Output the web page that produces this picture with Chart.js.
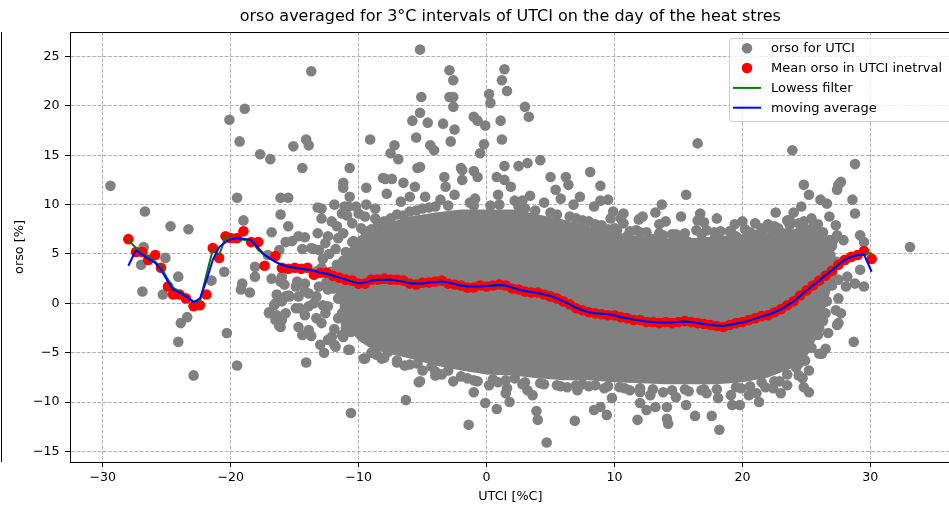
<!DOCTYPE html>
<html>
<head>
<meta charset="utf-8">
<script src="https://cdn.jsdelivr.net/npm/chart.js@4.4.1/dist/chart.umd.min.js"></script>
<style>
  html, body { margin: 0; padding: 0; background: #fff; overflow: hidden; }
  canvas { display: block; }
</style>
</head>
<body>
<canvas id="chart" width="956" height="506"></canvas>
<script>
const xTicks = [-30, -20, -10, 0, 10, 20, 30];
const yTicks = [-15, -10, -5, 0, 5, 10, 15, 20, 25];

// single observations around the dense cloud [UTCI, orso]
const orsoPoints = [
  [-29.4,11.9],[-26.7,9.3],[-26.8,5.7],[-24.7,7.8],[-23.3,7.5],[-27.0,3.9],[-26.9,1.2],[-25.1,4.6],[-25.3,0.9],[-24.1,2.7],
  [-23.9,-2.0],[-23.4,-1.4],[-24.1,-3.9],[-22.9,-7.3],[-21.5,2.3],[-20.5,3.2],[-20.3,-3.0],[-19.5,-6.3],[-19.1,2.0],[-19.2,1.4],
  [-18.5,1.1],[-18.1,2.7],[-20.1,18.6],[-18.9,19.7],[-19.3,16.4],[-19.5,10.7],[-19.0,8.4],[-17.7,15.1],[-16.9,14.6],[-18.1,3.7],[-17.1,4.9],
  [-16.1,10.7],[-15.5,10.7],[-16.1,9.0],[-15.5,7.8],[-16.8,7.2],[-15.7,6.2],[-15.2,6.3],[-14.7,6.8],[-14.2,6.7],[-16.2,5.4],
  [-14.4,5.5],[-13.2,9.7],[-13.2,7.1],[-13.5,5.5],[-15.1,15.9],[-14.1,16.6],[-13.9,16.0],[-14.4,13.7],[-13.7,23.5],
  [-16.8,2.5],[-16.1,2.2],[-16.0,2.7],[-16.4,0.9],[-15.4,0.7],[-16.5,0.0],[-17.0,-0.9],[-16.4,-1.2],[-16.0,-1.7],[-16.2,-2.3],
  [-14.7,-2.4],[-14.4,-3.2],[-13.7,-3.3],[-13.9,-2.7],[-14.1,-6.0],[-14.8,2.2],[-14.9,-0.5],[-14.6,-0.5],[-14.2,-1.2],[-13.9,1.0],
  [-14.2,2.0],[-13.5,0.0],[-14.9,1.7],[-14.2,1.2],[-13.3,0.7],[-13.9,-0.3],[-15.5,0.8],[-14.7,0.7],[-16.6,-0.2],[-13.7,5.6],
  [-13.1,5.4],[-16.0,0.2],[-15.7,-1.0],[-17.0,-1.0],[-16.5,-1.7],[-16.1,-2.4],[-15.8,1.9],[-15.7,0.7],
  [-12.9,9.6],[-12.9,8.6],[-12.1,8.3],[-11.3,9.1],[-10.8,9.8],[-10.0,9.1],[-9.4,10.0],[-11.9,10.0],[-11.1,9.8],[-10.9,8.9],
  [-10.5,8.1],[-10.2,9.8],[-11.7,7.8],[-12.4,6.8],[-12.6,6.1],[-11.2,7.1],[-12.4,-3.7],[-11.9,-4.2],[-11.2,-3.4],[-12.6,-1.0],
  [-12.4,-0.3],[-13.1,1.7],[-12.4,1.4],[-10.7,-4.7],[-9.5,-5.6],[-12.1,-3.4],[-11.3,-3.2],[-10.8,-4.7],[-11.8,-4.4],[-10.6,-11.1],
  [-11.2,12.2],[-11.2,11.7],[-10.7,13.7],[-10.7,10.8],[-9.4,11.7],[-9.1,16.6],
  [-12.8,4.5],[-12.3,5.0],[-11.8,5.5],[-12.9,3.6],[-12.0,1.5],[-11.5,0.5],[-12.8,-0.2],[-11.6,-1.5],[-11.0,-2.0],[-12.9,-2.0],
  [-13.3,-1.5],[-11.2,4.3],[-11.6,6.6],[-12.2,3.2],[-11.7,3.9],[-13.2,3.3],[-12.5,2.2],[-11.4,1.2],[-11.9,-2.6],[-10.6,-2.9],
  [-13.0,-4.2],[-12.7,-5.0],[-11.9,3.1],[-10.4,6.3],[-9.8,7.6],
  [-11.0,-2.5],[-11.3,-1.0],[-11.6,0.5],[-11.8,2.0],[-11.5,3.5],[-11.0,5.2],[-10.5,6.2],
  [-7.2,16.0],[-7.5,15.2],[-6.9,14.6],[-5.2,13.8],[-5.4,13.7],[-8.1,12.7],[-7.4,12.6],[-7.9,12.6],[-7.8,11.1],[-6.5,12.2],
  [-5.6,11.8],[-9.5,8.8],[-8.7,8.6],[-8.7,9.6],[-5.2,25.7],[-2.9,23.6],[-2.6,22.6],[-5.1,20.9],[-2.9,20.9],[-2.6,20.9],
  [-2.6,19.9],[0.2,21.2],[0.3,20.3],[1.4,23.7],[1.2,22.6],[1.6,21.5],[3.0,19.9],[3.3,18.9],[-5.8,18.5],[-5.2,19.3],
  [-4.6,18.3],[-3.4,18.2],[-2.5,17.6],[-1.0,18.9],[-0.7,18.5],[-0.1,18.0],[1.1,18.5],[1.2,16.6],[-5.5,16.8],[-2.8,16.4],
  [-0.2,16.1],[-0.5,15.2],[-4.4,16.0],[-4.1,15.5],[1.4,13.9],[2.5,13.9],[3.2,14.2],[4.2,14.5],[-2.0,13.7],[8.1,13.3],
  [8.9,11.9],[9.5,10.5],[6.2,12.8],[6.4,12.0],[-3.3,12.8],[-3.2,11.8],[-1.9,12.5],[-1.9,13.5],[-1.0,13.4],[-0.7,12.8],
  [0.8,12.8],[5.0,12.8],[5.4,11.5],[1.4,12.5],[1.9,11.8],
  [-6.7,10.3],[-6.0,10.8],[-3.6,10.5],[-2.5,11.0],[-0.9,10.6],[0.9,11.0],[2.2,10.4],[3.4,10.9],[4.5,10.2],[5.8,10.6],
  [6.8,10.0],[7.3,10.8],[8.4,9.8],[8.9,10.4],
  [-9.0,7.5],[-8.0,8.3],[-7.0,9.0],[-6.0,9.3],[-5.0,9.6],[-4.0,9.8],[3.0,9.6],[5.0,9.2],[6.5,8.8],[7.5,8.4],
  [8.5,8.0],[9.5,7.5],[-4.8,10.8],[-1.3,10.2],[0.3,9.9],[2.8,10.4],[9.7,8.6],
  [-9.5,7.3],[-8.5,8.2],[-7.5,8.6],[-6.5,8.9],[-5.5,9.4],[-4.5,9.7],[-3.0,9.9],[-1.0,9.9],[1.0,10.0],[2.5,9.8],
  [3.8,9.4],[5.5,9.0],[7.0,8.6],[8.0,8.3],[9.0,7.9],[10.0,7.6],[11.2,7.3],[12.5,7.2],[13.5,7.1],[14.5,7.0],
  [15.5,7.1],[16.8,7.0],[17.8,7.2],[19.0,7.3],[20.2,7.5],[21.5,7.6],[22.5,7.8],[23.7,7.9],[24.8,8.3],
  [10.5,8.6],[12.2,8.8],[13.2,9.2],[14.0,8.3],[15.2,8.8],[17.0,8.2],[18.0,8.6],[19.4,8.0],[21.0,8.1],[22.0,8.0],
  [22.6,9.2],[24.0,9.2],
  [16.5,16.2],[23.9,15.5],[28.8,14.1],[15.6,11.0],[13.7,10.0],[11.9,8.5],[13.5,8.0],[16.7,9.1],[16.5,8.4],[20.0,8.3],
  [24.8,12.0],[25.2,11.0],[27.5,12.0],[27.7,12.3],[28.6,10.5],[28.8,9.1],[33.1,5.7],[26.1,10.5],[26.6,10.1],[24.6,9.8],
  [23.7,8.4],[29.2,6.9],[29.5,6.2],[18.3,7.3],[19.1,7.3],[21.6,7.4],[22.4,7.4],[10.7,9.1],[10.2,7.4],[11.7,7.4],
  [9.9,9.3],[10.7,8.1],[12.5,6.2],[14.3,5.9],[15.4,6.6],[16.4,7.4],[17.2,7.4],[23.5,8.4],[24.4,8.1],
  [11.0,6.8],[12.0,7.2],[13.0,6.5],[14.8,7.0],[15.8,6.2],[17.8,6.5],[19.5,6.8],[11.5,6.0],[13.8,6.9],[16.9,6.2],
  [18.8,6.3],[20.6,7.2],[21.2,7.0],[22.8,7.6],[23.2,7.1],[25.4,8.6],[25.9,8.0],
  [27.4,11.5],[26.8,8.8],[27.3,7.9],[27.4,6.9],[27.9,6.4],[27.1,6.4],[29.2,3.4],[28.8,2.0],[29.5,1.7],[28.1,1.7],
  [27.5,0.5],[27.3,-0.7],[27.7,-1.0],[27.4,-2.2],[27.5,-2.0],[28.7,-3.9],[26.5,-1.0],[26.2,-5.1],[25.2,-6.8],[24.7,-7.6],
  [24.8,-8.5],[25.2,-9.0],[28.2,2.7],[27.5,2.4],[25.9,6.8],[26.8,6.4],[26.6,4.0],[27.0,3.0],[26.3,1.5],[26.0,-2.5],[26.7,-3.0],
  [25.4,-4.5],[25.9,-3.2],[26.3,-1.8],[26.6,0.2],[27.0,1.8],[27.4,4.2],[27.0,5.8],[26.3,7.2],[25.6,8.0],
  [-6.3,-9.8],[-5.3,-8.0],[-1.4,-12.3],[-1.0,-9.0],[-0.1,-10.1],[0.2,-8.3],[0.8,-10.7],[1.6,-8.6],[1.5,-9.1],[1.8,-10.0],
  [3.2,-8.8],[3.6,-9.3],[3.9,-10.9],[4.0,-11.8],[4.7,-14.1],[6.9,-11.9],[6.3,-8.5],[7.1,-8.8],[5.5,-8.3],[8.4,-10.8],
  [8.9,-10.5],[9.4,-11.3],[8.5,-8.3],[9.8,-9.6],[10.4,-8.5],[11.8,-11.8],[12.0,-9.0],[12.0,-10.1],[12.8,-9.3],[12.5,-10.8],
  [13.2,-10.5],[14.1,-11.7],[14.2,-12.2],[14.1,-10.5],[14.8,-9.5],[15.6,-10.3],[16.3,-11.4],[17.6,-11.4],[18.2,-12.8],[17.2,-9.1],
  [18.1,-9.6],[19.1,-9.3],[19.2,-10.3],[19.8,-10.3],[21.1,-9.1],[21.3,-10.0],[20.5,-9.3],[22.4,-8.6],[23.0,-9.1],[23.5,-8.3],
  [22.9,-7.9],[24.4,-7.3],[26.0,-5.1],[26.5,-4.6],[24.9,-4.2],[24.4,-6.1],
  [-9.6,-5.6],[-8.6,-5.2],[-7.7,-4.9],[-6.4,-6.3],[-5.4,-6.1],[-4.3,-6.4],[-3.0,-6.8],[-1.5,-7.6],[-0.7,-7.9],[2.2,-7.6],
  [4.2,-8.1],[-5.2,-7.9],[-4.0,-7.3],[-2.6,-7.9],[0.9,-8.0],[2.8,-8.2],[7.5,-8.2],[9.2,-8.6],[11.2,-8.8],[13.8,-9.0],
  [15.8,-8.9],[16.8,-8.8],[19.9,-8.6],[21.8,-8.5],[-7.0,-5.8],[-8.2,-5.6],
  [-9.0,-5.0],[-8.0,-5.5],[-7.0,-6.0],[-6.0,-6.2],[-5.0,-6.8],[-4.0,-6.9],[-3.5,-7.2],[-2.0,-7.4],[-1.0,-7.8],[0.5,-7.7],
  [1.5,-7.8],[3.0,-8.0],[4.5,-8.2],[5.8,-8.4],[7.0,-8.3],[8.0,-8.4],[9.5,-8.4],[10.8,-8.6],[12.0,-8.6],[13.0,-8.7],
  [14.5,-8.8],[15.5,-8.7],[17.0,-8.7],[18.0,-8.7],[19.5,-8.5],[20.6,-8.4],[21.5,-8.0],[22.5,-7.9],[23.5,-7.2],[24.2,-6.5],
  [24.9,-5.8]
];

// the cloud is solid in the middle: its upper and lower edge
const cloudUtci   = [-11.5, -10.5, -10, -9, -8, -6, -4, -2, 0, 2, 4, 6, 8, 10, 12, 14, 16, 18, 20, 22, 24, 25, 25.8, 26.6, 27.3];
const cloudTop    = [4.0, 6.0, 6.8, 7.5, 8.0, 8.8, 9.2, 9.5, 9.5, 9.5, 9.0, 8.5, 7.8, 7.2, 6.8, 6.6, 6.6, 6.8, 7.0, 7.2, 7.5, 8.0, 7.8, 6.5, 5.0];
const cloudBottom = [-1.5, -3.0, -3.8, -4.6, -5.0, -5.6, -6.3, -6.8, -7.2, -7.3, -7.6, -7.8, -7.8, -8.0, -8.1, -8.2, -8.2, -8.2, -8.0, -7.5, -6.5, -5.5, -3.5, 0.0, 3.0];

// means in UTCI intervals and the two smoothings
const meanUtci = [
  -28.0, -27.4, -26.9, -26.45, -25.9, -25.45, -24.9, -24.5, -24.0, -23.5, -22.9, -22.4, -21.9, -21.4, -20.9, -20.4,
  -20.0, -19.5, -19.0, -18.4, -17.85, -17.35, -16.5, -16.0,
  -15.5, -15.0, -14.5, -14.0, -13.5, -13.0, -12.5, -12.0, -11.5, -11.0, -10.5, -10.0, -9.5, -9.0, -8.5, -8.0,
  -7.5, -7.0, -6.5, -6.0, -5.5, -5.0, -4.5, -4.0, -3.5, -3.0, -2.5, -2.0, -1.5, -1.0, -0.5, 0.0,
  0.5, 1.0, 1.5, 2.0, 2.5, 3.0, 3.5, 4.0, 4.5, 5.0, 5.5, 6.0, 6.5, 7.0, 7.5, 8.0,
  8.5, 9.0, 9.5, 10.0, 10.5, 11.0, 11.5, 12.0, 12.5, 13.0, 13.5, 14.0, 14.5, 15.0, 15.5, 16.0,
  16.5, 17.0, 17.5, 18.0, 18.5, 19.0, 19.5, 20.0, 20.5, 21.0, 21.5, 22.0, 22.5, 23.0, 23.5, 24.0,
  24.5, 25.0, 25.5, 26.0, 26.5, 27.0, 27.5, 28.0, 28.5, 29.0, 29.5, 30.1
];
const meanOrso = [
  6.5, 5.2, 5.2, 4.4, 4.9, 3.6, 1.7, 0.9, 0.9, 0.5, -0.3, -0.2, 0.9, 5.6, 4.6, 6.8,
  6.6, 6.6, 7.3, 6.2, 6.2, 3.8, 4.8, 3.6,
  3.5, 3.6, 3.5, 3.6, 2.9, 3.1, 3.1, 2.8, 2.6, 2.4, 2.3, 2.0, 2.0, 2.4, 2.4, 2.5,
  2.4, 2.4, 2.3, 2.0, 1.9, 2.1, 2.1, 2.2, 2.3, 2.0, 1.9, 1.8, 1.6, 1.6, 1.8, 1.7,
  1.8, 1.9, 1.8, 1.5, 1.4, 1.2, 1.1, 1.1, 0.9, 0.7, 0.5, 0.2, -0.1, -0.5, -0.7, -0.9,
  -1.0, -1.1, -1.2, -1.2, -1.4, -1.5, -1.7, -1.7, -1.9, -1.9, -2.0, -1.9, -2.0, -1.9, -1.8, -1.9,
  -2.0, -2.1, -2.2, -2.3, -2.4, -2.2, -2.0, -1.9, -1.7, -1.5, -1.3, -1.2, -0.9, -0.6, -0.2, 0.2,
  0.8, 1.3, 1.8, 2.3, 2.8, 3.3, 3.9, 4.4, 4.7, 4.9, 5.3, 4.5
];
const lowessOrso = [
  6.4, 5.6, 5.0, 4.7, 4.2, 3.7, 2.4, 1.6, 1.2, 0.7, 0.2, 0.2, 2.9, 5.4, 4.9, 6.7,
  6.6, 6.5, 6.45, 6.4, 5.4, 4.9, 4.2, 3.9,
  3.7, 3.6, 3.5, 3.4, 3.3, 3.1, 3.0, 2.8, 2.6, 2.4, 2.2, 2.1, 2.1, 2.3, 2.35, 2.4,
  2.4, 2.3, 2.2, 2.05, 2.0, 2.0, 2.1, 2.15, 2.15, 2.1, 1.95, 1.85, 1.75, 1.7, 1.7, 1.75,
  1.8, 1.8, 1.75, 1.6, 1.4, 1.25, 1.15, 1.05, 0.9, 0.75, 0.5, 0.2, -0.1, -0.45, -0.7, -0.9,
  -1.0, -1.05, -1.1, -1.2, -1.4, -1.5, -1.65, -1.75, -1.85, -1.9, -1.95, -1.95, -1.95, -1.9, -1.85, -1.9,
  -2.0, -2.1, -2.2, -2.25, -2.3, -2.2, -2.05, -1.95, -1.75, -1.55, -1.35, -1.15, -0.9, -0.6, -0.2, 0.2,
  0.75, 1.3, 1.8, 2.3, 2.85, 3.35, 3.9, 4.4, 4.7, 4.9, 5.0, 5.1
];
const movingAvgOrso = [
  3.8, 5.4, 4.9, 4.5, 4.1, 3.4, 2.2, 1.4, 1.1, 0.7, 0.1, 0.5, 2.3, 4.4, 5.7, 6.2,
  6.5, 6.6, 6.55, 6.4, 5.6, 4.9, 4.2, 3.9,
  3.7, 3.6, 3.5, 3.4, 3.3, 3.1, 3.0, 2.8, 2.6, 2.4, 2.2, 2.0, 2.1, 2.3, 2.4, 2.4,
  2.4, 2.3, 2.2, 2.0, 2.0, 2.0, 2.1, 2.15, 2.2, 2.1, 1.95, 1.8, 1.7, 1.7, 1.7, 1.75,
  1.8, 1.85, 1.8, 1.6, 1.4, 1.25, 1.15, 1.05, 0.9, 0.75, 0.5, 0.2, -0.1, -0.45, -0.7, -0.9,
  -1.0, -1.05, -1.1, -1.2, -1.4, -1.5, -1.65, -1.75, -1.85, -1.9, -1.95, -1.95, -1.95, -1.9, -1.85, -1.9,
  -2.0, -2.1, -2.2, -2.25, -2.3, -2.2, -2.05, -1.95, -1.75, -1.55, -1.35, -1.15, -0.9, -0.6, -0.2, 0.2,
  0.75, 1.3, 1.8, 2.3, 2.85, 3.35, 3.9, 4.4, 4.7, 4.9, 4.95, 3.2
];

const FONT = "'DejaVu Sans', sans-serif";
const GRAY = '#808080';

function xy(xs, ys) {
  return xs.map((x, i) => ({ x: x, y: ys[i] }));
}

function minusLabel(v) {
  return v < 0 ? '\u2212' + Math.abs(v) : '' + v;
}

// title, top spine, the edge of the neighbouring panel and the boxed legend
const framePlugin = {
  id: 'frame',
  afterDraw(chart) {
    const ctx = chart.ctx;
    const area = chart.chartArea;
    ctx.save();

    ctx.strokeStyle = '#000';
    ctx.lineWidth = 1;
    ctx.beginPath();
    ctx.moveTo(area.left, area.top + 0.5);
    ctx.lineTo(area.right, area.top + 0.5);
    ctx.moveTo(1.5, area.top);
    ctx.lineTo(1.5, area.bottom);
    ctx.stroke();

    ctx.fillStyle = '#000';
    ctx.font = '16px ' + FONT;
    ctx.textAlign = 'center';
    ctx.textBaseline = 'middle';
    ctx.fillText('orso averaged for 3\u00b0C intervals of UTCI on the day of the heat stres',
      (area.left + area.right) / 2, 17);

    // legend box
    const bx = 729, by = 38, bw = 230, bh = 83;
    ctx.fillStyle = 'rgba(255,255,255,0.8)';
    ctx.strokeStyle = '#cccccc';
    ctx.beginPath();
    ctx.roundRect(bx + 0.5, by + 0.5, bw, bh, 3);
    ctx.fill();
    ctx.stroke();

    const items = chart.data.datasets.filter(d => d.label);
    ctx.font = '13px ' + FONT;
    ctx.textAlign = 'left';
    items.forEach((d, i) => {
      const y = 48.3 + i * 19.8;
      if (d.showLine) {
        ctx.strokeStyle = d.borderColor;
        ctx.lineWidth = d.borderWidth;
        ctx.beginPath();
        ctx.moveTo(733, y);
        ctx.lineTo(761, y);
        ctx.stroke();
      } else {
        ctx.fillStyle = d.backgroundColor;
        ctx.beginPath();
        ctx.arc(747, y, 5.3, 0, Math.PI * 2);
        ctx.fill();
      }
      ctx.fillStyle = '#000';
      ctx.fillText(d.label, 771, y + 0.5);
    });
    ctx.restore();
  }
};

const gridOpts = {
  color: '#b0b0b0', lineWidth: 1,
  drawTicks: true, tickLength: 5, tickColor: '#000', tickWidth: 1, tickBorderDash: []
};
const borderOpts = { display: true, color: '#000', width: 1, dash: [3.7, 1.6] };

const ctx = document.getElementById('chart');
const chart = new Chart(ctx, {
  type: 'scatter',
  data: {
    datasets: [
      {
        data: xy(cloudUtci, cloudTop),
        showLine: true, borderWidth: 0, pointRadius: 0,
        backgroundColor: GRAY, borderColor: GRAY, fill: false, order: 6
      },
      {
        data: xy(cloudUtci, cloudBottom),
        showLine: true, borderWidth: 0, pointRadius: 0,
        backgroundColor: GRAY, borderColor: GRAY, fill: '-1', order: 5
      },
      {
        label: 'orso for UTCI',
        data: orsoPoints.map(p => ({ x: p[0], y: p[1] })),
        pointRadius: 5.3, borderWidth: 0,
        backgroundColor: GRAY, borderColor: GRAY, order: 4
      },
      {
        label: 'Mean orso in UTCI inetrval',
        data: xy(meanUtci, meanOrso),
        pointRadius: 5.3, borderWidth: 0,
        backgroundColor: '#ff0000', borderColor: '#ff0000', order: 3
      },
      {
        label: 'Lowess filter',
        data: xy(meanUtci, lowessOrso),
        showLine: true, pointRadius: 0, borderWidth: 2,
        borderColor: '#008000', backgroundColor: '#008000', order: 2
      },
      {
        label: 'moving average',
        data: xy(meanUtci, movingAvgOrso),
        showLine: true, pointRadius: 0, borderWidth: 2,
        borderColor: '#0000ff', backgroundColor: '#0000ff', order: 1
      }
    ]
  },
  options: {
    responsive: false,
    animation: false,
    layout: { padding: { top: 32, left: 0, right: 0, bottom: 0 } },
    plugins: {
      legend: { display: false },
      title: { display: false },
      tooltip: { enabled: false }
    },
    scales: {
      x: {
        type: 'linear',
        min: -32.56,
        max: 36.28,
        z: 1,
        afterFit: s => { s.height = 44; },
        afterBuildTicks: s => { s.ticks = xTicks.map(v => ({ value: v })); },
        grid: gridOpts,
        border: borderOpts,
        ticks: {
          padding: 3, color: '#000', maxRotation: 0,
          font: { family: FONT, size: 12.6 },
          callback: v => minusLabel(v)
        },
        title: {
          display: true, text: 'UTCI [%C]', color: '#000',
          font: { family: FONT, size: 12.8 },
          padding: { top: 0, bottom: 1.5 }
        }
      },
      y: {
        type: 'linear',
        min: -16.07,
        max: 27.48,
        z: 1,
        afterFit: s => { s.width = 70; },
        afterBuildTicks: s => { s.ticks = yTicks.map(v => ({ value: v })); },
        grid: gridOpts,
        border: borderOpts,
        ticks: {
          padding: 5.5, color: '#000',
          font: { family: FONT, size: 12.6 },
          callback: v => minusLabel(v)
        },
        title: {
          display: true, text: 'orso [%]', color: '#000',
          font: { family: FONT, size: 12.8 },
          padding: { top: 12, bottom: 0 }
        }
      }
    }
  },
  plugins: [framePlugin]
});
</script>
</body>
</html>
